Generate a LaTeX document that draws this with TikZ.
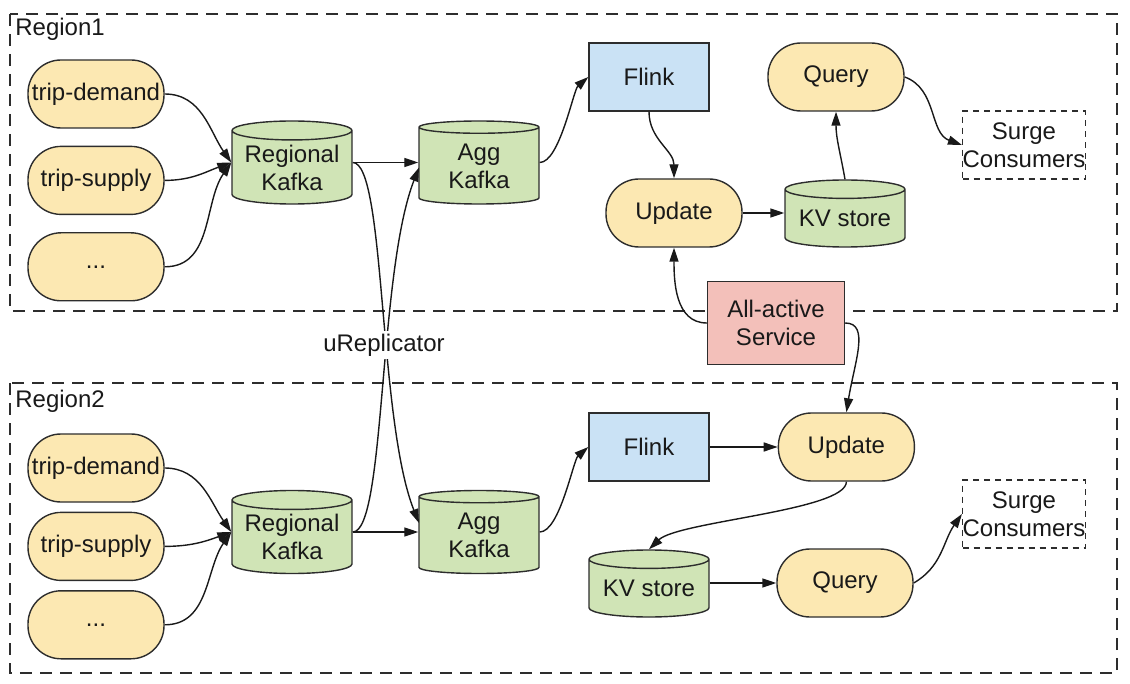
\documentclass[tikz,border=0pt]{standalone}
\usepackage{fontspec}
\setmainfont{Liberation Sans}
\usepackage{tikz}
\usetikzlibrary{positioning}
\usetikzlibrary{arrows.meta,shapes.geometric}

\definecolor{topicyellow}{RGB}{252,232,178}
\definecolor{kafkagreen}{RGB}{208,228,182}
\definecolor{flinkblue}{RGB}{202,226,245}
\definecolor{servicered}{RGB}{243,192,186}
\definecolor{bordergray}{RGB}{45,45,45}

\tikzset{
	every node/.style={font=\fontsize{12pt}{14pt}\selectfont, text=black!90},
	boxline/.style={draw=bordergray, line width=0.7pt},
	topic/.style={boxline, fill=topicyellow, rectangle, rounded corners=16.5pt,
		minimum width=68pt, minimum height=34pt, inner sep=0pt},
	kafka/.style={boxline, fill=kafkagreen, cylinder, shape border rotate=90,
		aspect=0.2, minimum width=60pt, minimum height=41.5pt, inner sep=0pt, align=center,
		anchor=shape center},
	kvstore/.style={kafka, minimum height=33.5pt},
	flinkbox/.style={boxline, fill=flinkblue, minimum width=60pt, minimum height=34pt, inner sep=0pt},
	servicebox/.style={boxline, fill=servicered, minimum width=68.5pt, minimum height=41.5pt,
		inner sep=0pt, align=center},
	consumers/.style={draw=bordergray, line width=0.7pt, dash pattern=on 3pt off 2.5pt,
		minimum width=60pt, minimum height=34pt, inner sep=0pt, align=center},
	region/.style={draw=bordergray, line width=0.7pt, dash pattern=on 6pt off 4pt},
	flow/.style={draw=black!90, line width=0.7pt, -{Triangle[length=7pt,width=4.5pt]}},
}

\begin{document}
\begin{tikzpicture}[x=0.5pt, y=-0.5pt]
	
	% ------------------------------------------------
	% Ensure the dimensions of graphic are appropriate
	\useasboundingbox (0,0) rectangle (1130,684);
	
	% ------------------------------------------------
	% Region frames
	\coordinate (R1NW) at (10,14);
	\path (R1NW) +(1107,297) coordinate (R1SE);
	\coordinate (R2NW) at (10,383);
	\path (R2NW) +(1107,290) coordinate (R2SE);
	
	\draw[region] (R1NW) rectangle (R1SE);
	\draw[region] (R2NW) rectangle (R2SE);
	
	\node[anchor=west, inner sep=1pt] (R1Label) at (13,29) {Region1};
	\node[anchor=west, inner sep=1pt] (R2Label) at (13,401) {Region2};
	
	%%%%%%%%%%%%%%%%%%%%%%%%%%%%%%%%%%%%%%%%%
	% Region1
	\node[topic] (R1Demand) at (96,94) {trip-demand};
	\node[topic, below=8.5pt of R1Demand] (R1Supply) {trip-supply};
	\node[topic, below=8.5pt of R1Supply] (R1More) {...};
	
	\node[kafka] (R1Regional) at (292,162.5) {Regional\\Kafka};
	\node[kafka] (R1Agg) at (479,162.5) {Agg\\Kafka};
	
	\node[flinkbox] (R1Flink) at (649,77) {Flink};
	\node[topic] (R1Query) at (836,77) {Query};
	\node[topic] (R1Update) at (674,213) {Update};
	\node[kvstore] (R1KV) at (845,213.5) {KV store};
	\node[consumers] (R1Surge) at (1024,145) {Surge\\Consumers};
	
	% Shared between the regions
	\node[servicebox] (Service) at (776,323) {All-active\\Service};
	
	%%%%%%%%%%%%%%%%%%%%%%%%%%%%%%%%%%%%%%%%%
	% Region2
	\node[topic] (R2Demand) at (96,468) {trip-demand};
	\node[topic, below=4.5pt of R2Demand] (R2Supply) {trip-supply};
	\node[topic, below=4.5pt of R2Supply] (R2More) {...};
	
	\node[kafka] (R2Regional) at (292,532) {Regional\\Kafka};
	\node[kafka] (R2Agg) at (479,532) {Agg\\Kafka};
	
	\node[flinkbox] (R2Flink) at (649,447) {Flink};
	\node[topic, right=34pt of R2Flink] (R2Update) {Update};
	\node[kvstore] (R2KV) at (649,583.5) {KV store};
	\node[topic] (R2Query) at (845,583) {Query};
	\node[consumers] (R2Surge) at (1024,514) {Surge\\Consumers};
	
	% ------------------------------------------------
	% Topics into the regional Kafka
	\draw[flow] (R1Demand.east) to[out=0, in=125] (R1Regional.west |- R1Regional.shape center);
	\draw[flow] (R1Supply.east) to[out=0, in=200] (R1Regional.west |- R1Regional.shape center);
	\draw[flow] (R1More.east)   to[out=0, in=235] (R1Regional.west |- R1Regional.shape center);
	
	\draw[flow] (R2Demand.east) to[out=0, in=125] (R2Regional.west |- R2Regional.shape center);
	\draw[flow] (R2Supply.east) to[out=0, in=200] (R2Regional.west |- R2Regional.shape center);
	\draw[flow] (R2More.east)   to[out=0, in=235] (R2Regional.west |- R2Regional.shape center);
	
	% Regional Kafka to Agg Kafka, same region and across (uReplicator)
	\draw[flow] (R1Regional.east |- R1Regional.shape center) -- (R1Agg.west |- R1Agg.shape center);
	\draw[flow] (R2Regional.east |- R2Regional.shape center) -- (R2Agg.west |- R2Agg.shape center);
	\draw[flow] (R1Regional.east |- R1Regional.shape center)
		.. controls +(33,0) and +(-41,-103) .. ([shift={(-60,-9)}]R2Agg.shape center);
	\draw[flow] (R2Regional.east |- R2Regional.shape center)
		.. controls +(33,0) and +(-41,105) .. ([shift={(-60,5)}]R1Agg.shape center);
	
	% Region1 pipeline
	\draw[flow] (R1Agg.east |- R1Agg.shape center) .. controls +(20,0) and +(-15,13) .. (R1Flink.west);
	\draw[flow] (R1Flink.south) to[out=-90, in=90] (R1Update.north);
	\draw[flow] (R1Update.east) -- (R1KV.west |- R1Update.east);
	\draw[flow] (R1KV.north) to[out=100, in=-90] (R1Query.south);
	\draw[flow] (R1Query.east) to[out=-20, in=160] (R1Surge.west);
	
	% All-active service feeds both Update jobs
	\draw[flow] (Service.west) to[out=180, in=-90] (R1Update.south);
	\draw[flow] (Service.east) .. controls +(25,0) and +(8,-50) .. (R2Update.north);
	
	% Region2 pipeline
	\draw[flow] (R2Agg.east |- R2Agg.shape center) .. controls +(20,0) and +(-15,13) .. (R2Flink.west);
	\draw[flow] (R2Flink.east) -- (R2Update.west);
	\draw[flow] (R2Update.south) .. controls +(0,29) and +(29,-28) .. (R2KV.north);
	\draw[flow] (R2KV.east |- R2Query.west) -- (R2Query.west);
	\draw[flow] (R2Query.east) to[out=30, in=235] (R2Surge.west);
	
	% Label over the crossing replication lines
	\node[fill=white, inner sep=1.5pt] (Replicator) at (384,345) {uReplicator};
	
\end{tikzpicture}
\end{document}
